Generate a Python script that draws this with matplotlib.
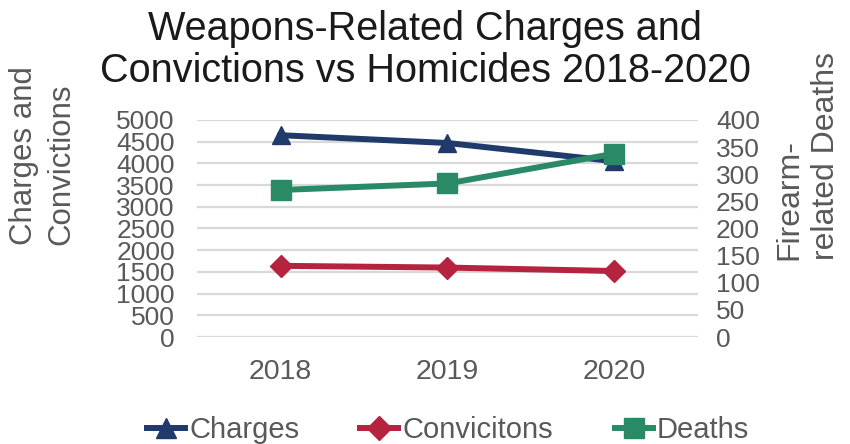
import matplotlib
matplotlib.use("Agg")
import matplotlib.pyplot as plt
from matplotlib.lines import Line2D

plt.rcParams['font.family'] = ['Liberation Sans', 'DejaVu Sans']

years = ["2018", "2019", "2020"]
charges = [4650, 4470, 4050]
convictions = [1640, 1600, 1520]
deaths = [271, 283, 338]

left_ticks = list(range(0, 5001, 500))
right_ticks = list(range(0, 401, 50))

c_charges = "#1F3A6B"
c_conv = "#B5233F"
c_deaths = "#2A8A65"
txt = "#595959"
grid_c = "#D9D9D9"

W, H = 850, 444
fig = plt.figure(figsize=(W / 100, H / 100), dpi=100)
ax = fig.add_axes([197 / W, (H - 337) / H, (698 - 197) / W, (337 - 120) / H])
ax2 = ax.twinx()

x = list(range(len(years)))
ax.set_xlim(-0.5, len(years) - 0.5)
ax.set_ylim(0, 5000)
ax2.set_ylim(0, 400)
ax.set_yticks(left_ticks)
ax2.set_yticks(right_ticks)
ax.set_xticks(x)
ax.set_xticklabels(years)

for y in left_ticks:
    ax.axhline(y, color=grid_c, lw=1.6, zorder=0)

for a in (ax, ax2):
    for s in a.spines.values():
        s.set_visible(False)
    a.tick_params(length=0, colors=txt, labelsize=19)
ax.tick_params(axis='y', pad=16)
ax2.tick_params(axis='y', pad=13)
ax.tick_params(axis='x', pad=16, labelsize=20.5)

lw = 4.3
ax.plot(x, charges, color=c_charges, lw=lw, marker='^', ms=13, zorder=3)
ax.plot(x, convictions, color=c_conv, lw=lw, marker='D', ms=11, zorder=3)
ax2.plot(x, deaths, color=c_deaths, lw=lw, marker='s', ms=14, zorder=3)

fig.text(0.5, (H - 40) / H, "Weapons-Related Charges and", ha='center', va='baseline',
         fontsize=28.5, color='#1a1a1a')
fig.text(0.5, (H - 82) / H, "Convictions vs Homicides 2018-2020", ha='center', va='baseline',
         fontsize=28.5, color='#1a1a1a')

fig.text(9 / W, (H - 245) / H, "Charges and\nConvictions", rotation=90, ha='left', va='bottom',
         multialignment='left', fontsize=22.5, color=txt, linespacing=1.3)
fig.text(774 / W, (H - 260) / H, "Firearm-\nrelated Deaths", rotation=90, ha='left', va='bottom',
         multialignment='left', fontsize=23, color=txt, linespacing=1.3)

handles = [
    Line2D([], [], color=c_charges, lw=lw, marker='^', ms=15),
    Line2D([], [], color=c_conv, lw=lw, marker='D', ms=12),
    Line2D([], [], color=c_deaths, lw=lw, marker='s', ms=15),
]
leg = fig.legend(handles, ["Charges", "Convicitons", "Deaths"], loc='center',
                 bbox_to_anchor=(448 / W, (H - 430) / H), ncol=3, frameon=False,
                 fontsize=21, handlelength=1.3, handletextpad=0.15, columnspacing=2.1)
for t in leg.get_texts():
    t.set_color(txt)

fig.savefig("out.png", dpi=100)
